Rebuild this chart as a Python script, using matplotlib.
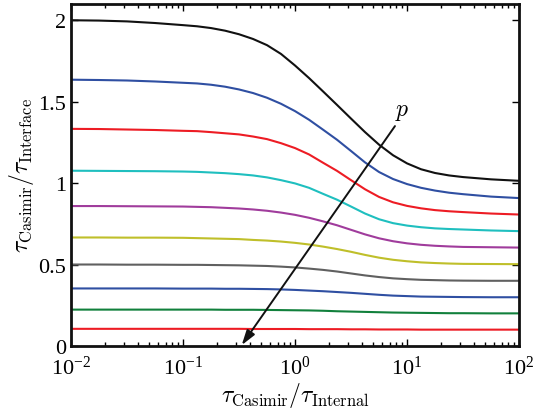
import numpy as np
import matplotlib
matplotlib.use('Agg')
from matplotlib import pyplot as plt
from matplotlib.ticker import LogLocator, FixedLocator, NullFormatter

# x positions where the curves were read (log10 of tau_Casimir / tau_Internal)
log_x = [-2, -1.75, -1.5, -1.25, -1, -0.875, -0.75, -0.625, -0.5, -0.375, -0.25, -0.125, 0,
         0.125, 0.25, 0.375, 0.5, 0.625, 0.75, 0.875, 1, 1.125, 1.25, 1.375, 1.5, 1.75, 2]

# tau_Casimir / tau_Interface, one curve per p (top to bottom)
curve_black = [2.000, 1.998, 1.993, 1.983, 1.970, 1.963, 1.952, 1.936, 1.914, 1.885, 1.847, 1.793, 1.722,
               1.645, 1.563, 1.480, 1.396, 1.313, 1.236, 1.171, 1.121, 1.085, 1.062, 1.047, 1.037, 1.023, 1.014]
curve_blue = [1.635, 1.633, 1.630, 1.624, 1.616, 1.612, 1.604, 1.592, 1.575, 1.553, 1.524, 1.487, 1.442,
              1.389, 1.328, 1.266, 1.197, 1.127, 1.068, 1.025, 0.994, 0.971, 0.954, 0.941, 0.932, 0.917, 0.908]
curve_red = [1.333, 1.332, 1.329, 1.326, 1.321, 1.319, 1.313, 1.306, 1.299, 1.286, 1.270, 1.245, 1.215,
             1.176, 1.125, 1.075, 1.018, 0.962, 0.915, 0.882, 0.860, 0.845, 0.834, 0.827, 0.822, 0.813, 0.807]
curve_cyan = [1.076, 1.075, 1.074, 1.073, 1.071, 1.069, 1.065, 1.061, 1.055, 1.047, 1.035, 1.018, 0.998,
              0.971, 0.934, 0.898, 0.856, 0.813, 0.778, 0.754, 0.739, 0.729, 0.722, 0.718, 0.715, 0.709, 0.705]
curve_magenta = [0.859, 0.859, 0.858, 0.857, 0.856, 0.854, 0.852, 0.848, 0.844, 0.838, 0.830, 0.819, 0.805,
                 0.787, 0.765, 0.741, 0.713, 0.685, 0.661, 0.643, 0.630, 0.621, 0.615, 0.611, 0.608, 0.606, 0.604]
curve_yellow = [0.666, 0.666, 0.665, 0.665, 0.664, 0.662, 0.660, 0.658, 0.656, 0.651, 0.647, 0.641, 0.633,
                0.623, 0.610, 0.595, 0.578, 0.559, 0.542, 0.529, 0.520, 0.513, 0.509, 0.506, 0.504, 0.503, 0.502]
curve_gray = [0.500, 0.500, 0.499, 0.499, 0.498, 0.498, 0.497, 0.496, 0.495, 0.493, 0.491, 0.487, 0.482,
              0.475, 0.467, 0.457, 0.445, 0.433, 0.423, 0.415, 0.410, 0.406, 0.404, 0.402, 0.401, 0.400, 0.400]
curve_blue2 = [0.353, 0.353, 0.353, 0.353, 0.352, 0.352, 0.352, 0.351, 0.351, 0.350, 0.349, 0.347, 0.344,
               0.340, 0.336, 0.331, 0.326, 0.320, 0.314, 0.309, 0.306, 0.303, 0.302, 0.301, 0.300, 0.299, 0.299]
curve_green = [0.223, 0.223, 0.223, 0.223, 0.223, 0.223, 0.223, 0.222, 0.222, 0.222, 0.221, 0.220, 0.219,
               0.218, 0.216, 0.213, 0.211, 0.209, 0.207, 0.205, 0.204, 0.203, 0.202, 0.201, 0.201, 0.200, 0.200]
curve_red2 = [0.105, 0.105, 0.105, 0.105, 0.105, 0.105, 0.105, 0.105, 0.105, 0.104, 0.104, 0.104, 0.104,
              0.103, 0.103, 0.103, 0.102, 0.102, 0.101, 0.101, 0.101, 0.100, 0.100, 0.100, 0.100, 0.100, 0.100]

curves = [curve_black, curve_blue, curve_red, curve_cyan, curve_magenta,
          curve_yellow, curve_gray, curve_blue2, curve_green, curve_red2]
colors = ['#111111', '#2f4fa2', '#ed1c24', '#1fbfbf', '#a03c9c',
          '#bfbf2a', '#606060', '#2f4fa2', '#11803c', '#ed1c24']

# arrow along increasing p: tail (x, y) and head (x, y)
arrow_tail = (7.8, 1.35)
arrow_head = (0.334, 0.005)
p_label_pos = (9.0, 1.44)

plt.rcParams['font.family'] = ['Liberation Serif', 'DejaVu Serif']
plt.rcParams['mathtext.fontset'] = 'cm'

fig = plt.figure(figsize=(5.34, 4.14), dpi=100)
ax = fig.add_axes([0.133, 0.162, 0.839, 0.826])

x = 10.0 ** np.array(log_x)
for vals, c in zip(curves, colors):
    ax.plot(x, vals, color=c, lw=1.5, solid_joinstyle='round')

ax.annotate('', xy=arrow_head, xytext=arrow_tail,
            arrowprops=dict(arrowstyle='-|>,head_length=0.9,head_width=0.28',
                            color='#111111', lw=1.4, shrinkA=0, shrinkB=0))
ax.text(p_label_pos[0], p_label_pos[1], r'$p$', fontsize=17, ha='center', va='center')

ax.set_xscale('log')
ax.set_xlim(1e-2, 1e2)
ax.set_ylim(0, 2.1)
ax.yaxis.set_major_locator(FixedLocator([0, 0.5, 1, 1.5, 2]))
ax.set_yticklabels(['0', '0.5', '1', '1.5', '2'])
ax.xaxis.set_major_locator(LogLocator(base=10, numticks=10))
ax.xaxis.set_minor_locator(LogLocator(base=10, subs=np.arange(2, 10), numticks=10))
ax.xaxis.set_minor_formatter(NullFormatter())

ax.tick_params(which='both', direction='in', top=True, right=True, labelsize=16, width=1.0)
ax.tick_params(which='major', length=5)
ax.tick_params(which='minor', length=3)
ax.tick_params(axis='x', pad=7)
for lab in ax.get_xticklabels():
    lab.set_math_fontfamily('stix')
for s in ax.spines.values():
    s.set_linewidth(2.0)
    s.set_color('#111111')

ax.set_xlabel(r'$\tau_{\mathrm{Casimir}}/\tau_{\mathrm{Internal}}$', fontsize=17, labelpad=1)
ax.set_ylabel(r'$\tau_{\mathrm{Casimir}}/\tau_{\mathrm{Interface}}$', fontsize=17, labelpad=2)

fig.savefig('out.png', dpi=100)
